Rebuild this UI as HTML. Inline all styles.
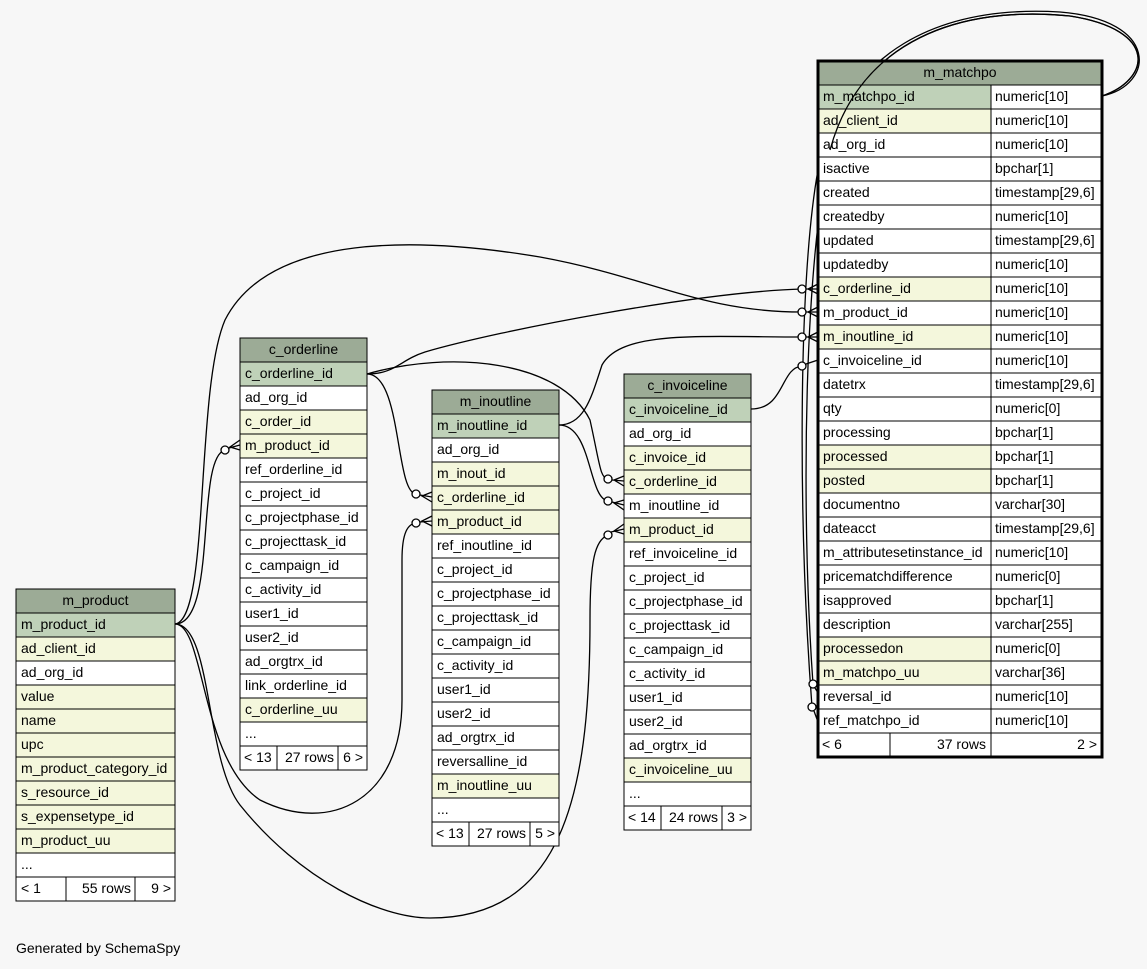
<!DOCTYPE html>
<html><head><meta charset="utf-8"><style>
html,body{margin:0;padding:0;background:#f7f7f7;}
svg{display:block}
text{font-family:"Liberation Sans",Arial,sans-serif;font-size:14px;fill:#000;transform:translateY(-1px)}
.h{fill:#9cab96;stroke:#000}
.p{fill:#bfd1b8;stroke:#000}
.y{fill:#f4f7dc;stroke:#000}
.w{fill:#fff;stroke:#000}
.c{fill:none;stroke:#000;stroke-width:1.3}
.o{fill:#fff;stroke:#000;stroke-width:1.3}
</style></head><body>
<svg width="1147" height="969" viewBox="0 0 1147 969" xmlns="http://www.w3.org/2000/svg">
<rect width="1147" height="969" fill="#f7f7f7"/>

<!-- connectors -->
<path class="c" d="M1102,96 C1150,80 1160,30 1070,16 C960,5 860,40 830,150 C805,260 800,500 813,684"/>
<path class="c" d="M1102,96 C1155,85 1160,20 1060,12 C940,5 845,50 818,170 C798,280 798,520 812,707"/>
<path class="c" d="M367,374 C395,374 400,360 425,352 C500,330 700,292 802,289"/>
<path class="c" d="M175,624 C210,620 195,390 225,320 C270,232 420,237 540,257 C650,277 700,312 802,312"/>
<path class="c" d="M559,425 C585,425 592,395 602,365 C622,330 700,337 802,337"/>
<path class="c" d="M751,409 C785,409 780,368 802,366"/>
<path class="c" d="M367,374 C402,374 395,492 416,494"/>
<path class="c" d="M367,374 C450,350 560,360 590,420 C600,465 600,478 608,479"/>
<path class="c" d="M559,425 C592,425 588,498 608,501"/>
<path class="c" d="M175,624 C218,624 195,458 225,450"/>
<path class="c" d="M175,624 C205,624 200,760 260,800 C330,835 402,800 402,700 L402,560 C402,532 408,524 416,523"/>
<path class="c" d="M175,624 C212,624 205,760 240,805 C300,880 380,918 430,918 C560,918 590,800 590,620 C590,560 595,540 608,535"/>

<!-- end markers -->
<g>
<circle class="o" cx="802" cy="289" r="4"/><path class="c" d="M806,289 L818,289 M818,284 L808,289 L818,294"/>
<circle class="o" cx="802" cy="312" r="4"/><path class="c" d="M806,312 L818,312 M818,307 L808,312 L818,317"/>
<circle class="o" cx="802" cy="337" r="4"/><path class="c" d="M806,337 L818,337 M818,332 L808,337 L818,342"/>
<circle class="o" cx="802" cy="366" r="4"/><path class="c" d="M806,364 L818,360"/>
<circle class="o" cx="813" cy="684" r="4"/><path class="c" d="M815,688 L820,696"/>
<circle class="o" cx="812" cy="707" r="4"/><path class="c" d="M814,711 L818,722"/>
<circle class="o" cx="416" cy="494" r="4"/><path class="c" d="M420,495 L432,497 M432,492 L422,496 L432,502"/>
<circle class="o" cx="416" cy="523" r="4"/><path class="c" d="M420,522 L432,521 M432,516 L422,521 L432,526"/>
<circle class="o" cx="225" cy="450" r="4"/><path class="c" d="M229,448 L240,445 M240,440 L230,447 L240,450"/>
<circle class="o" cx="608" cy="479" r="4"/><path class="c" d="M612,480 L624,481 M624,476 L614,480 L624,486"/>
<circle class="o" cx="608" cy="501" r="4"/><path class="c" d="M612,502 L624,505 M624,500 L614,503 L624,510"/>
<circle class="o" cx="608" cy="535" r="4"/><path class="c" d="M611,532 L624,529 M624,524 L614,531 L624,534"/>
</g>

<!-- m_product -->
<g>
<rect class="h" x="16" y="589" width="159" height="24"/><text x="95.5" y="606" text-anchor="middle">m_product</text>
<rect class="p" x="16" y="613" width="159" height="24"/><text x="21" y="630">m_product_id</text>
<rect class="y" x="16" y="637" width="159" height="24"/><text x="21" y="654">ad_client_id</text>
<rect class="w" x="16" y="661" width="159" height="24"/><text x="21" y="678">ad_org_id</text>
<rect class="y" x="16" y="685" width="159" height="24"/><text x="21" y="702">value</text>
<rect class="y" x="16" y="709" width="159" height="24"/><text x="21" y="726">name</text>
<rect class="y" x="16" y="733" width="159" height="24"/><text x="21" y="750">upc</text>
<rect class="y" x="16" y="757" width="159" height="24"/><text x="21" y="774">m_product_category_id</text>
<rect class="y" x="16" y="781" width="159" height="24"/><text x="21" y="798">s_resource_id</text>
<rect class="y" x="16" y="805" width="159" height="24"/><text x="21" y="822">s_expensetype_id</text>
<rect class="y" x="16" y="829" width="159" height="24"/><text x="21" y="846">m_product_uu</text>
<rect class="w" x="16" y="853" width="159" height="24"/><text x="21" y="870">...</text>
<rect class="w" x="16" y="877" width="159" height="24"/>
<line x1="66" y1="877" x2="66" y2="901" stroke="#000"/><line x1="135" y1="877" x2="135" y2="901" stroke="#000"/>
<text x="21" y="894">&lt; 1</text><text x="131" y="894" text-anchor="end">55 rows</text><text x="171" y="894" text-anchor="end">9 &gt;</text>
</g>

<!-- c_orderline -->
<g>
<rect class="h" x="240" y="338" width="127" height="24"/><text x="303.5" y="355" text-anchor="middle">c_orderline</text>
<rect class="p" x="240" y="362" width="127" height="24"/><text x="245" y="379">c_orderline_id</text>
<rect class="w" x="240" y="386" width="127" height="24"/><text x="245" y="403">ad_org_id</text>
<rect class="y" x="240" y="410" width="127" height="24"/><text x="245" y="427">c_order_id</text>
<rect class="y" x="240" y="434" width="127" height="24"/><text x="245" y="451">m_product_id</text>
<rect class="w" x="240" y="458" width="127" height="24"/><text x="245" y="475">ref_orderline_id</text>
<rect class="w" x="240" y="482" width="127" height="24"/><text x="245" y="499">c_project_id</text>
<rect class="w" x="240" y="506" width="127" height="24"/><text x="245" y="523">c_projectphase_id</text>
<rect class="w" x="240" y="530" width="127" height="24"/><text x="245" y="547">c_projecttask_id</text>
<rect class="w" x="240" y="554" width="127" height="24"/><text x="245" y="571">c_campaign_id</text>
<rect class="w" x="240" y="578" width="127" height="24"/><text x="245" y="595">c_activity_id</text>
<rect class="w" x="240" y="602" width="127" height="24"/><text x="245" y="619">user1_id</text>
<rect class="w" x="240" y="626" width="127" height="24"/><text x="245" y="643">user2_id</text>
<rect class="w" x="240" y="650" width="127" height="24"/><text x="245" y="667">ad_orgtrx_id</text>
<rect class="w" x="240" y="674" width="127" height="24"/><text x="245" y="691">link_orderline_id</text>
<rect class="y" x="240" y="698" width="127" height="24"/><text x="245" y="715">c_orderline_uu</text>
<rect class="w" x="240" y="722" width="127" height="24"/><text x="245" y="739">...</text>
<rect class="w" x="240" y="746" width="127" height="24"/>
<line x1="277" y1="746" x2="277" y2="770" stroke="#000"/><line x1="338" y1="746" x2="338" y2="770" stroke="#000"/>
<text x="244" y="763">&lt; 13</text><text x="334" y="763" text-anchor="end">27 rows</text><text x="363" y="763" text-anchor="end">6 &gt;</text>
</g>

<!-- m_inoutline -->
<g>
<rect class="h" x="432" y="390" width="127" height="24"/><text x="495.5" y="407" text-anchor="middle">m_inoutline</text>
<rect class="p" x="432" y="414" width="127" height="24"/><text x="437" y="431">m_inoutline_id</text>
<rect class="w" x="432" y="438" width="127" height="24"/><text x="437" y="455">ad_org_id</text>
<rect class="y" x="432" y="462" width="127" height="24"/><text x="437" y="479">m_inout_id</text>
<rect class="y" x="432" y="486" width="127" height="24"/><text x="437" y="503">c_orderline_id</text>
<rect class="y" x="432" y="510" width="127" height="24"/><text x="437" y="527">m_product_id</text>
<rect class="w" x="432" y="534" width="127" height="24"/><text x="437" y="551">ref_inoutline_id</text>
<rect class="w" x="432" y="558" width="127" height="24"/><text x="437" y="575">c_project_id</text>
<rect class="w" x="432" y="582" width="127" height="24"/><text x="437" y="599">c_projectphase_id</text>
<rect class="w" x="432" y="606" width="127" height="24"/><text x="437" y="623">c_projecttask_id</text>
<rect class="w" x="432" y="630" width="127" height="24"/><text x="437" y="647">c_campaign_id</text>
<rect class="w" x="432" y="654" width="127" height="24"/><text x="437" y="671">c_activity_id</text>
<rect class="w" x="432" y="678" width="127" height="24"/><text x="437" y="695">user1_id</text>
<rect class="w" x="432" y="702" width="127" height="24"/><text x="437" y="719">user2_id</text>
<rect class="w" x="432" y="726" width="127" height="24"/><text x="437" y="743">ad_orgtrx_id</text>
<rect class="w" x="432" y="750" width="127" height="24"/><text x="437" y="767">reversalline_id</text>
<rect class="y" x="432" y="774" width="127" height="24"/><text x="437" y="791">m_inoutline_uu</text>
<rect class="w" x="432" y="798" width="127" height="24"/><text x="437" y="815">...</text>
<rect class="w" x="432" y="822" width="127" height="24"/>
<line x1="469" y1="822" x2="469" y2="846" stroke="#000"/><line x1="530" y1="822" x2="530" y2="846" stroke="#000"/>
<text x="436" y="839">&lt; 13</text><text x="526" y="839" text-anchor="end">27 rows</text><text x="555" y="839" text-anchor="end">5 &gt;</text>
</g>

<!-- c_invoiceline -->
<g>
<rect class="h" x="624" y="374" width="127" height="24"/><text x="687.5" y="391" text-anchor="middle">c_invoiceline</text>
<rect class="p" x="624" y="398" width="127" height="24"/><text x="629" y="415">c_invoiceline_id</text>
<rect class="w" x="624" y="422" width="127" height="24"/><text x="629" y="439">ad_org_id</text>
<rect class="y" x="624" y="446" width="127" height="24"/><text x="629" y="463">c_invoice_id</text>
<rect class="y" x="624" y="470" width="127" height="24"/><text x="629" y="487">c_orderline_id</text>
<rect class="w" x="624" y="494" width="127" height="24"/><text x="629" y="511">m_inoutline_id</text>
<rect class="y" x="624" y="518" width="127" height="24"/><text x="629" y="535">m_product_id</text>
<rect class="w" x="624" y="542" width="127" height="24"/><text x="629" y="559">ref_invoiceline_id</text>
<rect class="w" x="624" y="566" width="127" height="24"/><text x="629" y="583">c_project_id</text>
<rect class="w" x="624" y="590" width="127" height="24"/><text x="629" y="607">c_projectphase_id</text>
<rect class="w" x="624" y="614" width="127" height="24"/><text x="629" y="631">c_projecttask_id</text>
<rect class="w" x="624" y="638" width="127" height="24"/><text x="629" y="655">c_campaign_id</text>
<rect class="w" x="624" y="662" width="127" height="24"/><text x="629" y="679">c_activity_id</text>
<rect class="w" x="624" y="686" width="127" height="24"/><text x="629" y="703">user1_id</text>
<rect class="w" x="624" y="710" width="127" height="24"/><text x="629" y="727">user2_id</text>
<rect class="w" x="624" y="734" width="127" height="24"/><text x="629" y="751">ad_orgtrx_id</text>
<rect class="y" x="624" y="758" width="127" height="24"/><text x="629" y="775">c_invoiceline_uu</text>
<rect class="w" x="624" y="782" width="127" height="24"/><text x="629" y="799">...</text>
<rect class="w" x="624" y="806" width="127" height="24"/>
<line x1="661" y1="806" x2="661" y2="830" stroke="#000"/><line x1="722" y1="806" x2="722" y2="830" stroke="#000"/>
<text x="628" y="823">&lt; 14</text><text x="718" y="823" text-anchor="end">24 rows</text><text x="747" y="823" text-anchor="end">3 &gt;</text>
</g>

<!-- m_matchpo -->
<g>
<rect class="h" x="818" y="61" width="284" height="24"/><text x="960" y="78" text-anchor="middle">m_matchpo</text>
<g>
<rect class="p" x="818" y="85" width="173" height="24"/><rect class="w" x="991" y="85" width="111" height="24"/><text x="823" y="102">m_matchpo_id</text><text x="995" y="102">numeric[10]</text>
<rect class="y" x="818" y="109" width="173" height="24"/><rect class="w" x="991" y="109" width="111" height="24"/><text x="823" y="126">ad_client_id</text><text x="995" y="126">numeric[10]</text>
<rect class="w" x="818" y="133" width="173" height="24"/><rect class="w" x="991" y="133" width="111" height="24"/><text x="823" y="150">ad_org_id</text><text x="995" y="150">numeric[10]</text>
<rect class="w" x="818" y="157" width="173" height="24"/><rect class="w" x="991" y="157" width="111" height="24"/><text x="823" y="174">isactive</text><text x="995" y="174">bpchar[1]</text>
<rect class="w" x="818" y="181" width="173" height="24"/><rect class="w" x="991" y="181" width="111" height="24"/><text x="823" y="198">created</text><text x="995" y="198">timestamp[29,6]</text>
<rect class="w" x="818" y="205" width="173" height="24"/><rect class="w" x="991" y="205" width="111" height="24"/><text x="823" y="222">createdby</text><text x="995" y="222">numeric[10]</text>
<rect class="w" x="818" y="229" width="173" height="24"/><rect class="w" x="991" y="229" width="111" height="24"/><text x="823" y="246">updated</text><text x="995" y="246">timestamp[29,6]</text>
<rect class="w" x="818" y="253" width="173" height="24"/><rect class="w" x="991" y="253" width="111" height="24"/><text x="823" y="270">updatedby</text><text x="995" y="270">numeric[10]</text>
<rect class="y" x="818" y="277" width="173" height="24"/><rect class="w" x="991" y="277" width="111" height="24"/><text x="823" y="294">c_orderline_id</text><text x="995" y="294">numeric[10]</text>
<rect class="w" x="818" y="301" width="173" height="24"/><rect class="w" x="991" y="301" width="111" height="24"/><text x="823" y="318">m_product_id</text><text x="995" y="318">numeric[10]</text>
<rect class="y" x="818" y="325" width="173" height="24"/><rect class="w" x="991" y="325" width="111" height="24"/><text x="823" y="342">m_inoutline_id</text><text x="995" y="342">numeric[10]</text>
<rect class="w" x="818" y="349" width="173" height="24"/><rect class="w" x="991" y="349" width="111" height="24"/><text x="823" y="366">c_invoiceline_id</text><text x="995" y="366">numeric[10]</text>
<rect class="w" x="818" y="373" width="173" height="24"/><rect class="w" x="991" y="373" width="111" height="24"/><text x="823" y="390">datetrx</text><text x="995" y="390">timestamp[29,6]</text>
<rect class="w" x="818" y="397" width="173" height="24"/><rect class="w" x="991" y="397" width="111" height="24"/><text x="823" y="414">qty</text><text x="995" y="414">numeric[0]</text>
<rect class="w" x="818" y="421" width="173" height="24"/><rect class="w" x="991" y="421" width="111" height="24"/><text x="823" y="438">processing</text><text x="995" y="438">bpchar[1]</text>
<rect class="y" x="818" y="445" width="173" height="24"/><rect class="w" x="991" y="445" width="111" height="24"/><text x="823" y="462">processed</text><text x="995" y="462">bpchar[1]</text>
<rect class="y" x="818" y="469" width="173" height="24"/><rect class="w" x="991" y="469" width="111" height="24"/><text x="823" y="486">posted</text><text x="995" y="486">bpchar[1]</text>
<rect class="w" x="818" y="493" width="173" height="24"/><rect class="w" x="991" y="493" width="111" height="24"/><text x="823" y="510">documentno</text><text x="995" y="510">varchar[30]</text>
<rect class="w" x="818" y="517" width="173" height="24"/><rect class="w" x="991" y="517" width="111" height="24"/><text x="823" y="534">dateacct</text><text x="995" y="534">timestamp[29,6]</text>
<rect class="w" x="818" y="541" width="173" height="24"/><rect class="w" x="991" y="541" width="111" height="24"/><text x="823" y="558">m_attributesetinstance_id</text><text x="995" y="558">numeric[10]</text>
<rect class="w" x="818" y="565" width="173" height="24"/><rect class="w" x="991" y="565" width="111" height="24"/><text x="823" y="582">pricematchdifference</text><text x="995" y="582">numeric[0]</text>
<rect class="w" x="818" y="589" width="173" height="24"/><rect class="w" x="991" y="589" width="111" height="24"/><text x="823" y="606">isapproved</text><text x="995" y="606">bpchar[1]</text>
<rect class="w" x="818" y="613" width="173" height="24"/><rect class="w" x="991" y="613" width="111" height="24"/><text x="823" y="630">description</text><text x="995" y="630">varchar[255]</text>
<rect class="y" x="818" y="637" width="173" height="24"/><rect class="w" x="991" y="637" width="111" height="24"/><text x="823" y="654">processedon</text><text x="995" y="654">numeric[0]</text>
<rect class="y" x="818" y="661" width="173" height="24"/><rect class="w" x="991" y="661" width="111" height="24"/><text x="823" y="678">m_matchpo_uu</text><text x="995" y="678">varchar[36]</text>
<rect class="w" x="818" y="685" width="173" height="24"/><rect class="w" x="991" y="685" width="111" height="24"/><text x="823" y="702">reversal_id</text><text x="995" y="702">numeric[10]</text>
<rect class="w" x="818" y="709" width="173" height="24"/><rect class="w" x="991" y="709" width="111" height="24"/><text x="823" y="726">ref_matchpo_id</text><text x="995" y="726">numeric[10]</text>
<rect class="w" x="818" y="733" width="284" height="24"/>
<line x1="890" y1="733" x2="890" y2="757" stroke="#000"/><line x1="991" y1="733" x2="991" y2="757" stroke="#000"/>
<text x="822" y="750">&lt; 6</text><text x="986" y="750" text-anchor="end">37 rows</text><text x="1097" y="750" text-anchor="end">2 &gt;</text>
</g>
<rect x="818" y="61" width="284" height="696" fill="none" stroke="#000" stroke-width="3"/>
<path class="c" d="M1102,96 C1150,80 1160,30 1070,16 C960,5 860,40 830,150" />
</g>

<text x="16" y="954">Generated by SchemaSpy</text>
</svg>
</body></html>
